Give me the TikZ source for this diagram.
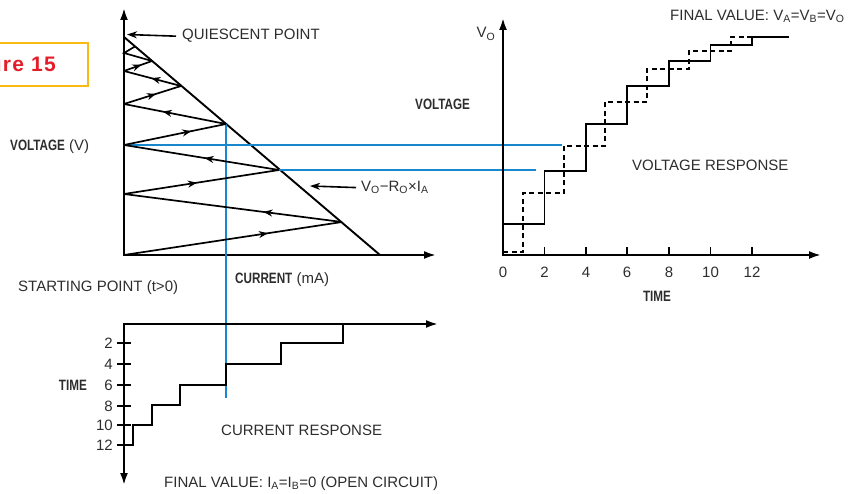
\documentclass[tikz,border=0pt]{standalone}
\usepackage{graphicx}
\usepackage{fontspec}
\setmainfont{Liberation Sans}
\newfontfamily\tagfont[LetterSpace=6]{Liberation Sans}
\usetikzlibrary{arrows.meta,decorations.markings}
\definecolor{rayblue}{RGB}{24,136,206}
\definecolor{tagred}{RGB}{228,30,40}
\definecolor{tagorange}{RGB}{250,186,20}
\definecolor{ink}{RGB}{45,45,45}
% condensed bold label
\newcommand\hb[1]{\scalebox{0.78}[1]{\bfseries #1}}
\tikzset{axtip/.tip={Latex[length=12pt,width=8pt]}}
\begin{document}
\begin{tikzpicture}[x=1pt,y=-1pt,
  font=\fontsize{15}{17}\selectfont,
  lbl/.style={inner sep=0pt, text=ink, anchor=base west},
  axisline/.style={line width=2.1pt, line join=miter, {axtip}-{axtip}},
  curve/.style={line width=1.9pt},
  rayline/.style={rayblue, line width=1.6pt},
  ptr/.style={line width=1.6pt, -{Stealth[length=10pt,width=7pt]}},
  flow/.style={line width=1.7pt, postaction={decorate},
    decoration={markings, mark=at position #1 with {\arrow{Stealth[length=9pt,width=7pt]}}}},
  tick/.style={line width=1.8pt}]
\useasboundingbox (0,0) rectangle (858,494);

% ---- figure tag, cut at the page edge
\begin{scope}
  \clip (0,0) rectangle (858,494);
  \draw[tagorange, line width=2.2pt] (-80,43) rectangle (88,86);
  \node[inner sep=0pt, anchor=base east, text=tagred, font=\tagfont\fontsize{21}{24}\selectfont\bfseries] (tag) at (56,72) {Figure 15};
\end{scope}

% ================= voltage / current plane =================
\coordinate (vtop) at (124,8);
\coordinate (org) at (124,255);
\coordinate (iend) at (436,255);
\draw[axisline] (vtop) -- (org) -- (iend);

% load line
\coordinate (q) at (124,37);
\coordinate (lend) at (380,255);
\draw[curve] (q) -- (lend);

% bounce points on the voltage axis and on the load line
\coordinate (a0) at (124,255);
\coordinate (a1) at (124,194);
\coordinate (a2) at (124,145);
\coordinate (a3) at (124,104);
\coordinate (a4) at (124,71);
\coordinate (a5) at (124,53);
\coordinate (b1) at (342,222);
\coordinate (b2) at (279,170);
\coordinate (b3) at (226,124);
\coordinate (b4) at (181,86);
\coordinate (b5) at (152,61);
\coordinate (b6) at (135,46.5);

% blue projection lines
\coordinate (pv1) at (562,145);
\coordinate (pv2) at (536,170);
\coordinate (pc) at (226,398);
\draw[rayline] (a2) -- (pv1);
\draw[rayline] (b2) -- (pv2);
\draw[rayline] (b3) -- (pc);

\draw[flow=0.66] (a0) -- (b1);
\draw[flow=0.36] (b1) -- (a1);
\draw[flow=0.47] (a1) -- (b2);
\draw[flow=0.48] (b2) -- (a2);
\draw[flow=0.66] (a2) -- (b3);
\draw[flow=0.62] (b3) -- (a3);
\draw[flow=0.56] (a3) -- (b4);
\draw[flow=0.52] (b4) -- (a4);
\draw[flow=0.62] (a4) -- (b5);
\draw[line width=1.7pt] (b5) -- (a5) -- (b6);

% labels of the plane
\node[lbl] (qtxt) at (182,40) {QUIESCENT POINT};
\coordinate (qtip) at (127,34.5);
\draw[ptr] ([xshift=-6pt]qtxt.west) -- (qtip);

\node[lbl] (lltxt) at (361,191.5) {V\textsubscript{O}−R\textsubscript{O}×I\textsubscript{A}};
\coordinate (lltip) at (310,186);
\draw[ptr] ([xshift=-5pt]lltxt.west) -- (lltip);

\node[lbl] (vlab) at (10,150.5) {\hb{VOLTAGE} (V)};
\node[lbl] (start) at (18,291) {STARTING POINT (t>0)};
\node[lbl] (ilab) at (235,283.5) {\hb{CURRENT} (mA)};

% ================= voltage response =================
\coordinate (ro) at (503,255);
\coordinate (rtop) at (503,18);
\coordinate (rend) at (821,255);
\draw[axisline] (rtop) -- (ro) -- (rend);

\foreach \t/\x in {0/503,2/544.5,4/586,6/627,8/669,10/710.5,12/752} {
  \ifnum\t>0 \draw[tick] (\x,247) -- (\x,255); \fi
  \node[inner sep=0pt, text=ink, anchor=base] (rt\t) at (\x,277) {\t};
}

\draw[curve, line join=miter] (503,224) -- (544.5,224) -- (544.5,171) -- (586,171) -- (586,124)
  -- (627,124) -- (627,86) -- (669,86) -- (669,61) -- (710.5,61) -- (710.5,45)
  -- (752,45) -- (752,37) -- (789,37);
\draw[curve, dash pattern=on 5pt off 3.5pt] (503,252) -- (523,252) -- (523,193) -- (564,193)
  -- (564,146) -- (605,146) -- (605,102) -- (647,102) -- (647,69) -- (689,69)
  -- (689,51) -- (731,51) -- (731,37) -- (759,37);

\node[inner sep=0pt, text=ink, anchor=base] (vo) at (486,38) {V\textsubscript{O}};
\node[lbl] (vvlab) at (415,109.5) {\hb{VOLTAGE}};
\node[inner sep=0pt, text=ink, anchor=base] (ttlab) at (657,301.5) {\hb{TIME}};
\node[lbl] (vresp) at (632,170.5) {VOLTAGE RESPONSE};
\node[lbl] (vfin) at (670,20.5) {FINAL VALUE: V\textsubscript{A}=V\textsubscript{B}=V\textsubscript{O}};

% ================= current response =================
\coordinate (co) at (124,324);
\coordinate (cbot) at (124,485);
\coordinate (cend) at (438,324);
\draw[axisline] (cbot) -- (co) -- (cend);

\foreach \t/\y in {2/343,4/364,6/385,8/406,10/425,12/445} {
  \draw[tick] (117,\y) -- (131,\y);
  \node[inner sep=0pt, text=ink, anchor=base east] (ct\t) at (113,\y+5.5) {\t};
}

\draw[curve, line join=miter] (124,445) -- (133,445) -- (133,425) -- (152,425) -- (152,405)
  -- (180,405) -- (180,385) -- (226,385) -- (226,364) -- (281,364) -- (281,343)
  -- (343,343) -- (343,324);

\node[inner sep=0pt, text=ink, anchor=base east] (ctime) at (87,390.5) {\hb{TIME}};
\node[lbl] (cresp) at (221,435.5) {CURRENT RESPONSE};
\node[lbl] (cfin) at (164,487.5) {FINAL VALUE: I\textsubscript{A}=I\textsubscript{B}=0 (OPEN CIRCUIT)};
\end{tikzpicture}
\end{document}
